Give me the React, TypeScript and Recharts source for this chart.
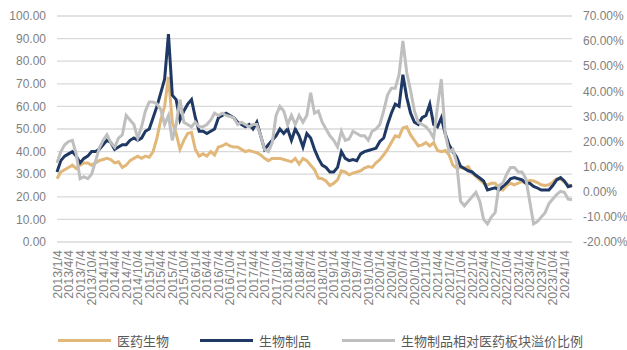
import React from "react";
import { LineChart, Line, XAxis, YAxis, CartesianGrid, Legend } from "recharts";

// Monthly categories 2013/1/4 .. 2024/3/4
const categories: string[] = [];
for (let y = 2013; y <= 2024; y++) {
  for (let m = 1; m <= 12; m++) {
    if (y === 2024 && m > 3) break;
    categories.push(`${y}/${m}/4`);
  }
}

// 医药生物 (left axis)
const pharma = [
  28, 31, 32, 33, 34, 32.5, 34, 35, 35, 34, 35, 36,
  36.5, 37, 36.5, 35, 35.5, 33, 34, 36, 37, 38, 37, 38,
  37.5, 40, 46, 54, 60, 73, 53, 48, 41, 45, 48, 48.5,
  41, 38, 39, 38, 40, 38.5, 42, 42.5, 43.5, 42.5, 42, 42,
  41, 40, 40.5, 40, 39.5, 38.5, 37, 36, 37, 37, 37, 36.5,
  36, 35.5, 37, 34.5, 37, 36, 34, 32, 28.3, 28, 27, 25,
  26, 27.5, 31.5, 31, 29.7, 30.5, 31, 31.5, 32.7, 33.4, 33, 35,
  36.4, 38.6, 41, 44, 47, 46.5, 50.5, 51, 47.4, 45, 42.5, 43,
  44, 42.5, 44, 40.5, 40, 40.5, 38.6, 34, 32.7, 33, 32.7, 33.4,
  30.5, 29, 27.5, 26, 25.3, 26, 26, 24, 23, 25, 26, 25.3,
  26, 26.8, 26, 27.3, 27, 26.3, 25.3, 25, 25.3, 26.5, 28, 27.8,
  26.5, 25.3, 24.6,
];

// 生物制品 (left axis)
const bio = [
  31, 36, 38, 39, 40, 38, 35, 37, 38, 40, 40, 41,
  43, 45, 44, 41, 42, 43, 43, 45, 46, 45, 46, 49,
  50, 55, 60, 66, 72, 92, 65, 63, 54, 58, 61, 63,
  55, 49, 49, 48, 49, 50, 55, 56, 57, 56, 55, 53,
  52, 51, 52, 50, 53, 47, 41, 43, 45, 47, 50, 48,
  50, 45, 50, 47, 42, 48, 46, 41, 37, 34, 33, 31,
  31, 33, 40, 37, 36, 36.5, 36, 39, 40, 40.5, 41, 41.5,
  44.5, 46, 52, 57, 61, 60, 74, 64, 57, 53, 52, 55,
  56, 61, 52, 51, 55, 48, 43, 40, 37.5, 33.5, 32.5, 31.5,
  31, 29.5, 28.3, 27, 23, 23.5, 24, 23, 24.6, 26, 28, 28.5,
  28, 27.5, 26, 26, 24.6, 23.9, 23, 23, 23, 25, 27.5, 28.5,
  27, 24.5, 25,
];

// 生物制品相对医药板块溢价比例 (right axis, %)
const premium = [
  11.5, 16, 18.7, 20, 20.5, 15, 5.2, 6, 5.2, 7, 12, 17.4,
  20.5, 22.7, 19.6, 17.8, 21.4, 22.7, 30.4, 28.6, 26.8, 21.4, 25.9, 32.2,
  35.8, 35.8, 35, 32.7, 26.8, 30.4, 20.5, 26.8, 36.7, 27.7, 26.8, 25.9,
  27.7, 25.9, 25.9, 26.8, 28.6, 31.3, 30.4, 31.3, 30.4, 30, 29.5, 26.8,
  27.7, 26.8, 25.9, 26.8, 26.8, 22.3, 16.9, 16, 19.6, 30.4, 34, 32.2,
  26.8, 30.4, 26.8, 30.4, 27.7, 30.4, 39.4, 31.3, 32.2, 27.7, 25, 22.3,
  20.5, 17.8, 24.1, 20.5, 21, 24.1, 23.2, 22.3, 22.3, 20.5, 24.1, 25,
  26.8, 32.2, 38.5, 41.2, 41.2, 46.6, 60.1, 47.5, 40.3, 32.2, 27.7, 26.8,
  25.9, 24.1, 21.4, 34, 44.8, 23.2, 16, 16.9, 11.5, -3.8, -5.6, -3.8,
  -2, -0.2, -3.8, -11, -12.8, -10.1, -8.3, 2.5, 3.4, 7, 9.7, 9.7,
  7.9, 7.9, 5.2, -3.8, -12.8, -11.9, -10.1, -8.3, -4.7, -2.9, -1.1, 0.2,
  -0.2, -2.9, -3.2,
];

const leftTicks = [0, 10, 20, 30, 40, 50, 60, 70, 80, 90, 100];
const rightTicks = [-20, -10, 0, 10, 20, 30, 40, 50, 60, 70];

const TAN = "#E1B879";
const NAVY = "#1F3864";
const GRAY = "#BFBFBF";

const seriesNames = ["医药生物", "生物制品", "生物制品相对医药板块溢价比例"];
const seriesColors = [TAN, NAVY, GRAY];

const data = categories.map((d, i) => ({
  date: d,
  pharma: pharma[i],
  bio: bio[i],
  premium: premium[i],
}));

const TICK_FONT = '"Liberation Sans", Arial, sans-serif';

const XTick = (props: any) => {
  const { x, y, payload } = props;
  return (
    <text
      x={x}
      y={y}
      transform={`rotate(-90, ${x}, ${y})`}
      textAnchor="end"
      dy="0.36em"
      fill="#7F7F7F"
      fontSize={12.5}
      fontFamily={TICK_FONT}
    >
      {payload.value}
    </text>
  );
};

const LegendContent = () => (
  <div
    style={{
      display: "flex",
      alignItems: "center",
      height: 20,
      paddingLeft: 58,
      fontFamily: '"Noto Sans CJK SC", sans-serif',
      fontSize: 13,
      color: "#595959",
      whiteSpace: "nowrap",
    }}
  >
    {seriesNames.map((n, i) => (
      <div key={n} style={{ display: "flex", alignItems: "center", marginRight: 31 }}>
        <span
          style={{
            display: "inline-block",
            width: 53,
            height: 3,
            background: seriesColors[i],
            marginRight: 6,
          }}
        />
        <span>{n}</span>
      </div>
    ))}
  </div>
);

export default function App() {
  return (
    <div style={{ position: "absolute", left: 0, top: 0, width: 627, height: 350, background: "#fff" }}>
      <LineChart
        width={627}
        height={350}
        data={data}
        margin={{ top: 16, right: 0, bottom: 0, left: 0 }}
      >
        <CartesianGrid yAxisId="left" vertical={false} stroke="#D9D9D9" strokeWidth={1.3} />
        <XAxis
          dataKey="date"
          interval={2}
          tick={<XTick />}
          tickLine={false}
          axisLine={false}
          tickSize={0}
          tickMargin={8}
          height={88}
        />
        <YAxis
          yAxisId="left"
          orientation="left"
          domain={[0, 100]}
          ticks={leftTicks}
          tickFormatter={(v: number) => v.toFixed(2)}
          axisLine={false}
          tickLine={false}
          tickSize={0}
          tickMargin={11}
          width={57}
          tick={{ fill: "#7F7F7F", fontSize: 12, fontFamily: TICK_FONT }}
          interval={0}
        />
        <YAxis
          yAxisId="right"
          orientation="right"
          domain={[-20, 70]}
          ticks={rightTicks}
          tickFormatter={(v: number) => `${v.toFixed(2)}%`}
          axisLine={false}
          tickLine={false}
          tickSize={0}
          tickMargin={11}
          width={55}
          tick={{ fill: "#7F7F7F", fontSize: 12, fontFamily: TICK_FONT, textAnchor: "start" }}
          interval={0}
        />
        <Legend verticalAlign="bottom" content={<LegendContent />} wrapperStyle={{ left: 0, width: 627 }} />
        <Line yAxisId="left" dataKey="pharma" name={seriesNames[0]} stroke={TAN} strokeWidth={3} dot={false} isAnimationActive={false} />
        <Line yAxisId="left" dataKey="bio" name={seriesNames[1]} stroke={NAVY} strokeWidth={3} dot={false} isAnimationActive={false} />
        <Line yAxisId="right" dataKey="premium" name={seriesNames[2]} stroke={GRAY} strokeWidth={3} dot={false} isAnimationActive={false} />
      </LineChart>
    </div>
  );
}
